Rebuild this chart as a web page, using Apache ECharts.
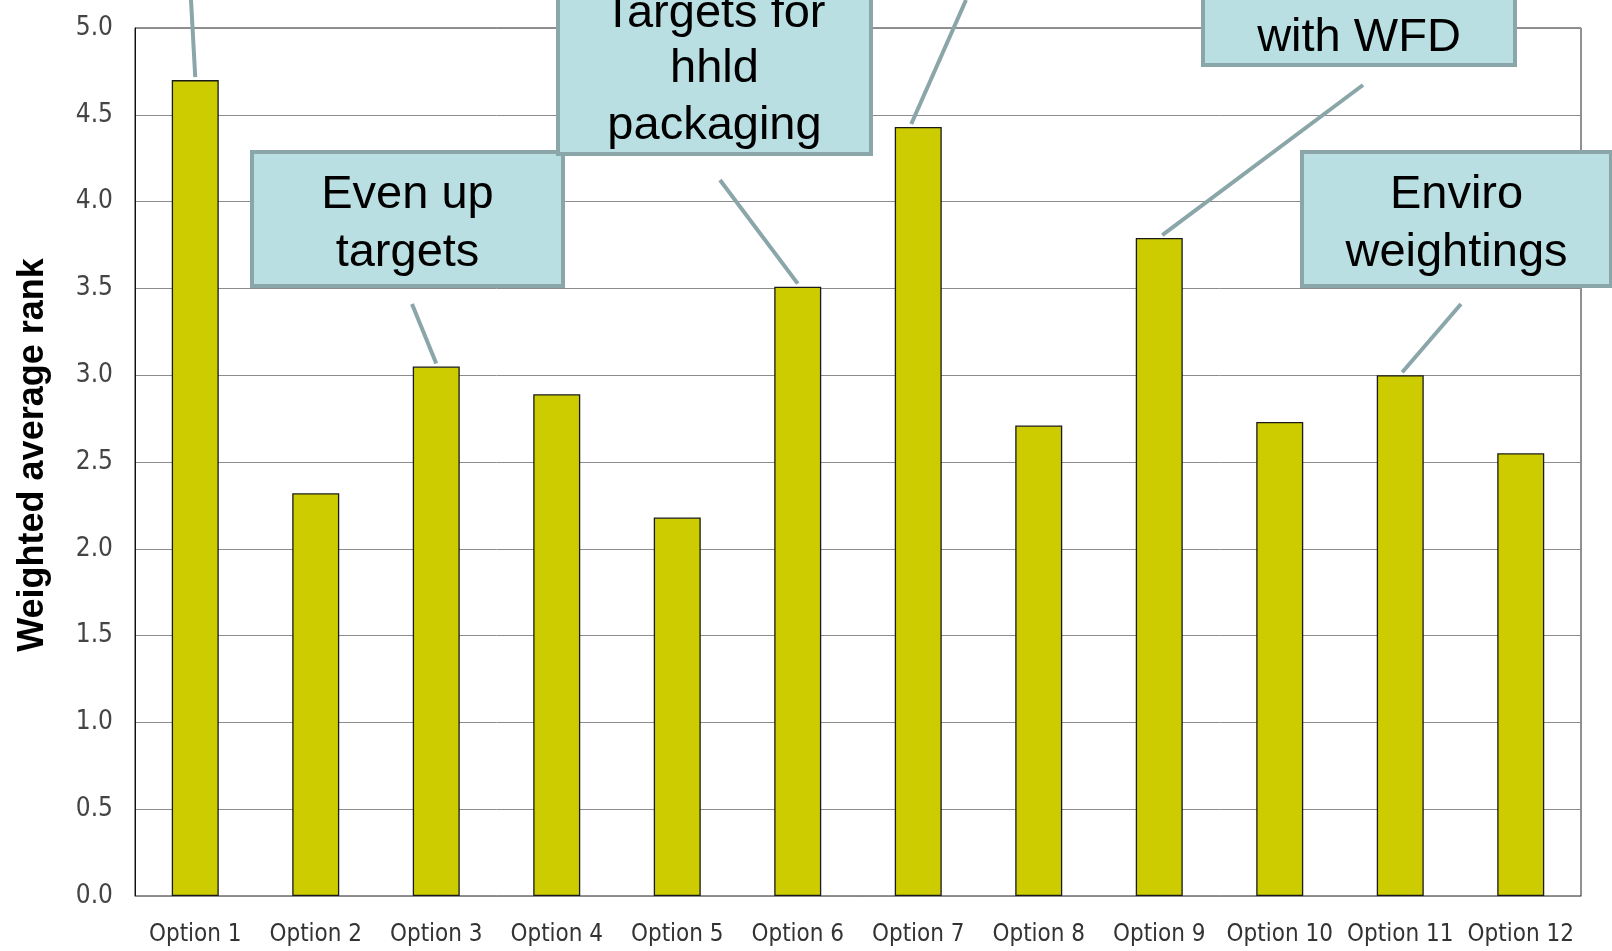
<!DOCTYPE html>
<html>
<head>
<meta charset="utf-8">
<script src="https://cdn.jsdelivr.net/npm/echarts@6/dist/echarts.min.js"></script>
<style>
html,body{margin:0;padding:0;background:#fff;}
#chart{width:1612px;height:951px;}
</style>
</head>
<body>
<div id="chart"></div>
<script>
// ---- data ----
const categories = ['Option 1','Option 2','Option 3','Option 4','Option 5','Option 6','Option 7','Option 8','Option 9','Option 10','Option 11','Option 12'];
const values = [4.70, 2.32, 3.05, 2.89, 2.18, 3.51, 4.43, 2.71, 3.79, 2.73, 3.00, 2.55];
const yTicks = ['0.0','0.5','1.0','1.5','2.0','2.5','3.0','3.5','4.0','4.5','5.0'];
const yAxisTitle = 'Weighted average rank';
// callout texts, by category index
const calloutCats = [0, 2, 5, 6, 8, 10];
const calloutTexts = [
  [],
  ['Even up', 'targets'],
  ['Targets for', 'hhld', 'packaging'],
  [],
  ['with WFD'],
  ['Enviro', 'weightings']
];

// ---- layout (pixels) ----
const calloutLayout = [
  {box:null, from:[191,0], dx:0},
  {box:[252,152,311,134], from:[412,304], dx:0, textY:[195,253]},
  {box:[558,-40,313,194], from:[720,180], dx:0, textY:[14,69,126]},
  {box:null, from:[966,0], dx:-7},
  {box:[1203,-60,312,125], from:[1363,85], dx:3, textY:[38]},
  {box:[1302,152,309,134], from:[1461,304], dx:2, textY:[195,253]}
];

const narrow = "'Liberation Sans Narrow','DejaVu Sans Condensed','Arial Narrow',sans-serif";
const chart = echarts.init(document.getElementById('chart'), null, {renderer:'canvas'});

chart.setOption({
  animation:false,
  backgroundColor:'#ffffff',
  grid:{left:135, right:31, top:28, bottom:55, show:true, borderColor:'#222', borderWidth:1, backgroundColor:'transparent'},
  xAxis:{
    type:'category', data:categories,
    axisLine:{show:true, lineStyle:{color:'#8a8a8a', width:1}},
    axisTick:{show:false},
    axisLabel:{color:'#333', fontFamily:narrow, fontSize:24, margin:27, interval:0}
  },
  yAxis:{
    type:'value', min:0, max:5, interval:0.5,
    name:yAxisTitle, nameLocation:'middle', nameGap:84,
    nameTextStyle:{fontFamily:"'Liberation Sans',Arial,sans-serif", fontWeight:'bold', fontSize:36, color:'#000', padding:[0,0,0,14]},
    axisLine:{show:true, lineStyle:{color:'#111', width:1}},
    axisTick:{show:false},
    splitLine:{show:true, lineStyle:{color:'#8c8c8c', width:1}},
    axisLabel:{color:'#444', fontFamily:narrow, fontSize:26, margin:22,
      formatter:function(v){ return yTicks[Math.round(v/0.5)]; }}
  },
  series:[{
    type:'bar', data:values, barWidth:'39%',
    itemStyle:{color:'#cccc00', borderColor:'#1a1a1a', borderWidth:1.3}
  }]
});

// callouts
const graphics = [];
const lineColor = '#8aa6a9';
calloutCats.forEach(function(ci, k){
  const L = calloutLayout[k];
  const top = chart.convertToPixel({seriesIndex:0}, [ci, values[ci]]);
  graphics.push({type:'line', silent:true, z:50,
    shape:{x1:L.from[0], y1:L.from[1], x2:top[0]+L.dx, y2:top[1]-3},
    style:{stroke:lineColor, lineWidth:4}});
  if (L.box) {
    graphics.push({type:'rect', z:60,
      shape:{x:L.box[0], y:L.box[1], width:L.box[2], height:L.box[3]},
      style:{fill:'#b9dfe2', stroke:lineColor, lineWidth:4}});
    calloutTexts[k].forEach(function(t, j){
      graphics.push({type:'text', z:70,
        x:L.box[0]+L.box[2]/2, y:L.textY[j],
        style:{text:t, fill:'#000', font:"47px 'Liberation Sans', Arial, sans-serif", textAlign:'center', textVerticalAlign:'middle'}});
    });
  }
});
chart.setOption({graphic:graphics});
</script>
</body>
</html>
